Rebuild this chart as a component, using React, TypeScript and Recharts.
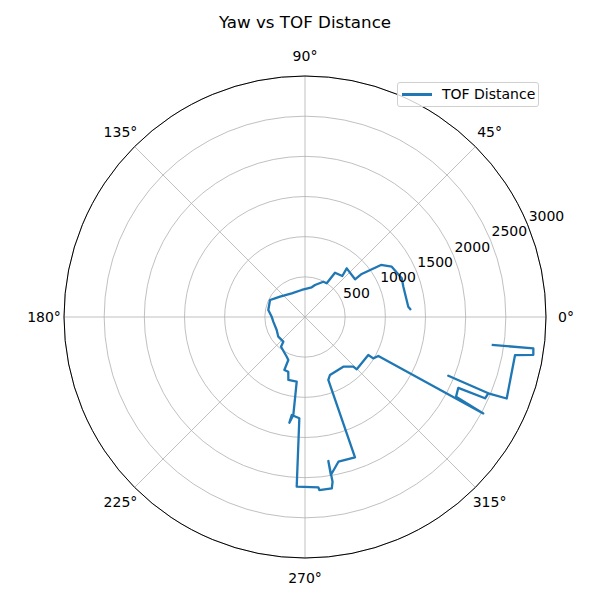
import React from "react";
import {
  RadarChart,
  Radar,
  PolarGrid,
  PolarAngleAxis,
  PolarRadiusAxis,
  Legend,
} from "recharts";

// yaw (degrees) and TOF distance (mm), in recorded order
const yawDeg = [
  3.8, 5.7, 17.1, 21.8, 30.1, 34.4, 37.2, 37.0, 49.4, 47.7, 55.9, 57.2, 62.6,
  72.6, 77.3, 97.0, 119.3, 140.9, 148.1, 154.1, 169.2, 179.5, 188.4, 204.7,
  216.4, 228.7, 231.1, 245.3, 248.8, 248.7, 253.0, 255.2, 262.7, 263.2, 261.6,
  262.3, 266.8, 267.2, 274.5, 274.7, 278.9, 279.5, 279.2, 279.3, 283.0, 289.6,
  290.3, 293.3, 307.6, 314.2, 314.7, 329.0, 328.8, 332.0, 331.6, 332.2, 335.2,
  335.7, 337.4, 337.7, 337.4, 338.0, 349.7, 350.6, 352.2, 351.5,
];
const tofDistance = [
  1322, 1292, 1281, 1297, 1248, 1146, 886, 780, 798, 690, 666, 499, 495, 417,
  379, 339, 338, 401, 440, 484, 465, 415, 399, 388, 413, 409, 475, 544, 574,
  708, 712, 811, 812, 1229, 1330, 1231, 1263, 2115, 2127, 2161, 2158, 2079,
  1816, 1993, 1849, 1855, 836, 786, 781, 863, 916, 919, 994, 1034, 2523, 2126,
  2102, 2459, 2472, 1928, 2472, 2708, 2657, 2881, 2869, 2350,
];
const angleTicks = [0, 45, 90, 135, 180, 225, 270, 315];
const radiusTicks = [500, 1000, 1500, 2000, 2500, 3000];

const data = yawDeg.map((yaw, i) => ({ yaw, dist: tofDistance[i] }));

const FONT = "'DejaVu Sans', sans-serif";
const BLUE = "#1f77b4";

// matplotlib draws an open line, Radar's default polygon would close it
function OpenLine(props: any) {
  const pts = props.points || [];
  const d = pts
    .map((p: any, i: number) => `${i === 0 ? "M" : "L"}${p.x},${p.y}`)
    .join("");
  return (
    <path
      d={d}
      fill="none"
      stroke={BLUE}
      strokeWidth={2.3}
      strokeLinejoin="round"
    />
  );
}

function AngleTick({ x, y, payload }: any) {
  return (
    <text
      x={x}
      y={y}
      textAnchor="middle"
      dominantBaseline="central"
      fontSize={14}
      fontFamily={FONT}
      fill="#000"
    >
      {`${payload.value}°`}
    </text>
  );
}

function RadiusTick({ x, y, payload }: any) {
  if (!payload.value) return <g />;
  return (
    <text
      x={x + 1}
      y={y - 4}
      textAnchor="start"
      fontSize={14}
      fontFamily={FONT}
      fill="#000"
    >
      {payload.value}
    </text>
  );
}

function LegendBox({ payload }: any) {
  return (
    <div
      style={{
        border: "1px solid #d0d0d0",
        borderRadius: 3,
        background: "rgba(255,255,255,0.8)",
        padding: "3px 3px 3px 4px",
        fontFamily: FONT,
        fontSize: 14,
        lineHeight: "17px",
      }}
    >
      {(payload || []).map((item: any) => (
        <div key={item.value} style={{ display: "flex", alignItems: "center" }}>
          <span
            style={{
              display: "inline-block",
              width: 30,
              height: 2.2,
              background: item.color || BLUE,
              marginRight: 10,
            }}
          />
          <span>{item.value}</span>
        </div>
      ))}
    </div>
  );
}

export default function App() {
  return (
    <div
      style={{
        position: "absolute",
        left: 0,
        top: 0,
        width: 600,
        height: 600,
        background: "#fff",
      }}
    >
      <div
        style={{
          position: "absolute",
          left: 0,
          top: 12,
          width: 610,
          textAlign: "center",
          fontFamily: FONT,
          fontSize: 16.7,
          lineHeight: "20px",
          color: "#000",
        }}
      >
        Yaw vs TOF Distance
      </div>
      <RadarChart
        width={600}
        height={600}
        data={data}
        cx={305}
        cy={317}
        innerRadius={0}
        outerRadius={241}
        startAngle={0}
        endAngle={360}
        margin={{ top: 0, right: 0, bottom: 0, left: 0 }}
      >
        <PolarGrid gridType="circle" stroke="#b0b0b0" strokeWidth={0.8} />
        <PolarAngleAxis
          dataKey="yaw"
          type="number"
          domain={[0, 360]}
          ticks={angleTicks}
          tickCount={9}
          axisLineType="circle"
          axisLine={{ stroke: "#000", strokeWidth: 1 }}
          tickLine={false}
          tickSize={20}
          tick={AngleTick}
        />
        <PolarRadiusAxis
          type="number"
          angle={22.5}
          domain={[0, 3000]}
          ticks={radiusTicks}
          tickCount={7}
          axisLine={false}
          tickLine={false}
          tick={RadiusTick}
        />
        <Radar
          name="TOF Distance"
          dataKey="dist"
          stroke={BLUE}
          fill="none"
          dot={false}
          legendType="line"
          shape={OpenLine}
          isAnimationActive={false}
        />
        <Legend
          content={LegendBox}
          wrapperStyle={{ position: "absolute", left: 397, top: 82, width: "auto" }}
        />
      </RadarChart>
    </div>
  );
}
